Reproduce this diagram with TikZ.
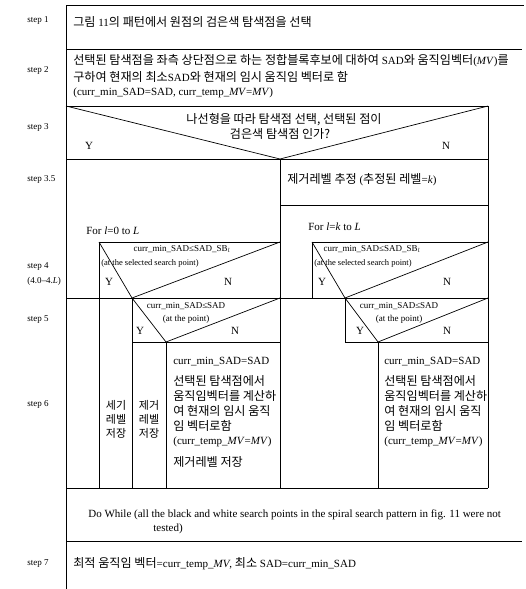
\documentclass[tikz,border=0pt]{standalone}
\usepackage{fontspec}
\setmainfont{Liberation Serif}
\newfontfamily\kr[Scale=1.1]{Noto Sans CJK KR}
\newcommand\K[1]{{\kr #1}}
\begin{document}
\begin{tikzpicture}[x=1pt,y=-1pt,line width=0.7pt,
  txt/.style={inner sep=0pt,font=\fontsize{11}{13}\selectfont},
  sm/.style={inner sep=0pt,font=\fontsize{9}{11}\selectfont},
  tiny/.style={inner sep=0pt,anchor=west,font=\fontsize{8.5}{10}\selectfont},
  lbl/.style={inner sep=0pt,anchor=west,font=\fontsize{9}{11}\selectfont},
  lw/.style={txt,anchor=west},
  ctr/.style={txt,anchor=center},
]
\useasboundingbox (0,0) rectangle (526,589);
% frame lines
\draw (66,5) -- (524,5);
\draw (66,49) -- (522,49);
\draw (66,106) -- (488,106);
\draw (66,5) -- (66,589);
\draw (488,106) -- (488,488);
% step 3 decision
\draw (66,106) -- (280,159) -- (488,106);
\draw (66,159) -- (488,159);
\draw (280,159) -- (280,488);
% right branch
\draw (280,205) -- (488,205);
\draw (312,298) -- (312,242) -- (488,242);
\draw (312,242) -- (345,298) -- (488,242);
% left branch
\draw (99,488) -- (99,242) -- (280,242);
\draw (99,242) -- (132,298) -- (280,242);
\draw (66,298) -- (488,298);
\draw (132,298) -- (132,488);
\draw (132,298) -- (166,342) -- (280,298);
\draw (132,342) -- (280,342);
\draw (166,342) -- (166,488);
\draw (345,298) -- (345,342) -- (488,342);
\draw (345,298) -- (378,342) -- (488,298);
\draw (378,342) -- (378,488);
% bottom rows
\draw (66,488) -- (488,488);
\draw (66,541) -- (522,541);

% step labels
\node[lbl] (s1) at (27,20) {step 1};
\node[lbl] (s2) at (27,70) {step 2};
\node[lbl] (s3) at (27,127) {step 3};
\node[lbl] (s35) at (27,179) {step 3.5};
\node[lbl] (s4) at (27,266) {step 4};
\node[lbl] (s4b) at (27,281) {(4.0–4.\textit{L})};
\node[lbl] (s5) at (27,320) {step 5};
\node[lbl] (s6) at (27,404) {step 6};
\node[lbl] (s7) at (27,564) {step 7};

% step 1, 2
\node[lw] (t1) at (73,22) {\K{그림 }11\K{의 패턴에서 원점의 검은색 탐색점을 선택}};
\node[lw] (t2a) at (73,61) {\K{선택된 탐색점을 좌측 상단점으로 하는 정합블록후보에 대하여 }SAD\K{와 움직임벡터}(\textit{MV})\K{를}};
\node[lw] (t2b) at (73,77) {\K{구하여 현재의 최소}SAD\K{와 현재의 임시 움직임 벡터로 함}};
\node[lw] (t2c) at (73,93) {(curr\_min\_SAD=SAD, curr\_temp\_\textit{MV}=\textit{MV})};

% step 3
\node[ctr] (q3a) at (284,120) {\K{나선형을 따라 탐색점 선택, 선택된 점이}};
\node[ctr] (q3b) at (280,134) {\K{검은색 탐색점 인가?}};
\node[ctr] (y3) at (89,146) {Y};
\node[ctr] (n3) at (446,146) {N};

% step 3.5
\node[lw] (t35) at (287,180) {\K{제거레벨 추정 }(\K{추정된 레벨}=\textit{k})};

% loops
\node[lw] (forL) at (86,231) {For \textit{l}=0 to \textit{L}};
\node[lw] (forR) at (308,227) {For \textit{l}=\textit{k} to \textit{L}};

% step 4 decisions
\node[sm] (c4l) at (182,249) {curr\_min\_SAD≤SAD\_SB$_l$};
\node[tiny] (a4l) at (101,263) {(at the selected search point)};
\node[ctr] (y4l) at (109,282) {Y};
\node[ctr] (n4l) at (228,282) {N};
\node[sm] (c4r) at (372,249) {curr\_min\_SAD≤SAD\_SB$_l$};
\node[tiny] (a4r) at (314,263) {(at the selected search point)};
\node[ctr] (y4r) at (322,282) {Y};
\node[ctr] (n4r) at (447,282) {N};

% step 5 decisions
\node[sm] (c5l) at (186,306) {curr\_min\_SAD≤SAD};
\node[sm] (a5l) at (186,319) {(at the point)};
\node[ctr] (y5l) at (140,331) {Y};
\node[ctr] (n5l) at (235,331) {N};
\node[sm] (c5r) at (399,306) {curr\_min\_SAD≤SAD};
\node[sm] (a5r) at (399,319) {(at the point)};
\node[ctr] (y5r) at (360,331) {Y};
\node[ctr] (n5r) at (447,331) {N};

% step 6 : columns
\node[txt,align=center,font=\fontsize{10}{14}\selectfont] (sv1) at (116,419) {\K{세기}\\\K{레벨}\\\K{저장}};
\node[txt,align=center,font=\fontsize{10}{14}\selectfont] (sv2) at (149,419) {\K{제거}\\\K{레벨}\\\K{저장}};
% left N content
\node[lw] (l1) at (173,362) {curr\_min\_SAD=SAD};
\node[lw] (l2) at (173,381) {\K{선택된 탐색점에서}};
\node[lw] (l3) at (173,396) {\K{움직임벡터를 계산하}};
\node[lw] (l4) at (173,411) {\K{여 현재의 임시 움직}};
\node[lw] (l5) at (173,426) {\K{임 벡터로함}};
\node[lw] (l6) at (173,442) {(curr\_temp\_\textit{MV}=\textit{MV})};
\node[lw] (l7) at (173,462) {\K{제거레벨 저장}};
% right N content
\node[lw] (r1) at (384,362) {curr\_min\_SAD=SAD};
\node[lw] (r2) at (384,381) {\K{선택된 탐색점에서}};
\node[lw] (r3) at (384,396) {\K{움직임벡터를 계산하}};
\node[lw] (r4) at (384,411) {\K{여 현재의 임시 움직}};
\node[lw] (r5) at (384,426) {\K{임 벡터로함}};
\node[lw] (r6) at (384,442) {(curr\_temp\_\textit{MV}=\textit{MV})};

% do while
\node[lw] (dw1) at (88,515) {Do While (all the black and white search points in the spiral search pattern in fig. 11 were not};
\node[lw] (dw2) at (153,529) {tested)};

% step 7
\node[lw] (t7) at (73,564) {\K{최적 움직임 벡터}=curr\_temp\_\textit{MV}, \K{최소 }SAD=curr\_min\_SAD};
\end{tikzpicture}
\end{document}
